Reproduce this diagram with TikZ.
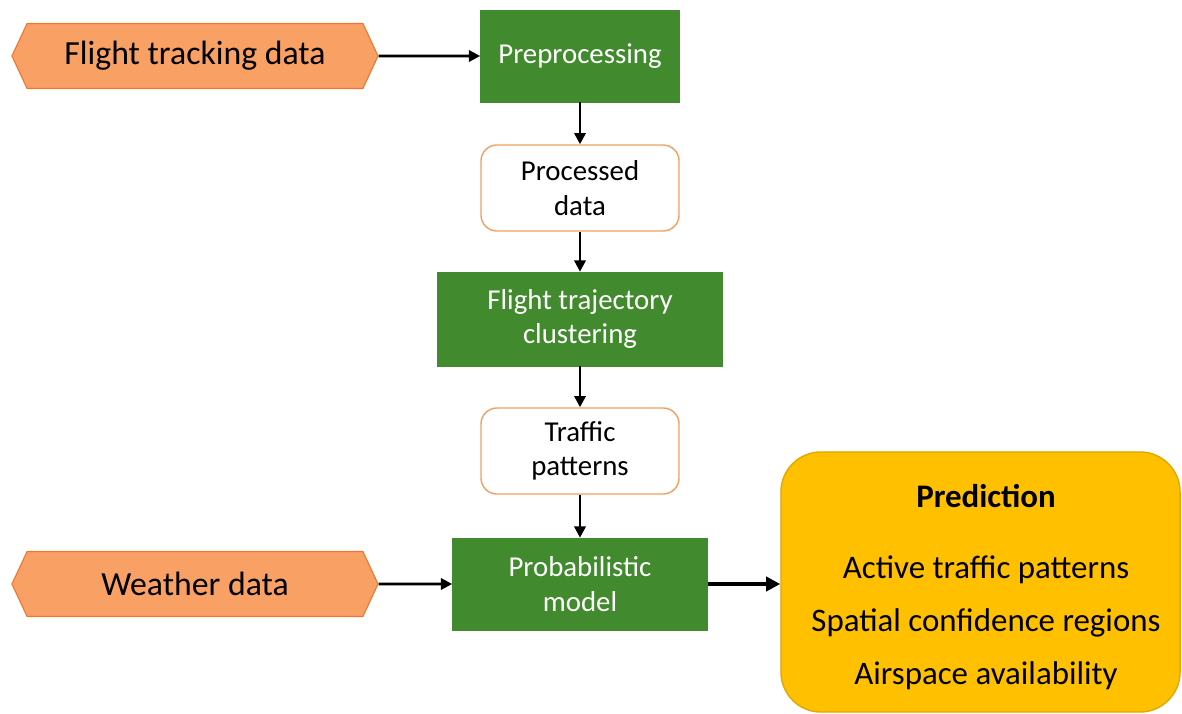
\documentclass[tikz,border=0pt]{standalone}
\usepackage{fontspec}
\setmainfont{Carlito}
\usetikzlibrary{arrows.meta,shapes.symbols}
\definecolor{srcfill}{HTML}{F9A064}
\definecolor{srcline}{HTML}{E67A35}
\definecolor{stepgreen}{HTML}{418A2E}
\definecolor{dataline}{HTML}{F0A060}
\definecolor{predfill}{HTML}{FFC000}
\definecolor{predline}{HTML}{E0A800}
\begin{document}
\begin{tikzpicture}[x=0.025cm,y=-0.025cm,
    >={Triangle[length=8pt,width=8pt]},
    source/.style={signal,signal to=east and west,signal pointer angle=130,
      draw=srcline,fill=srcfill,line width=0.8pt,inner sep=0pt,
      minimum width=9.15cm,minimum height=1.625cm,font=\fontsize{24}{28}\selectfont},
    process/.style={draw=stepgreen,fill=stepgreen,text=white,align=center,
      minimum height=2.3cm,font=\fontsize{20.5}{24.5}\selectfont},
    result/.style={draw=dataline,fill=white,rounded corners=0.4cm,line width=1pt,
      align=center,minimum width=4.95cm,minimum height=2.15cm,
      font=\fontsize{20.5}{24.5}\selectfont},
    flow/.style={->,line width=1.8pt}]
  \useasboundingbox (0,0) rectangle (1182,714);
  \node[source] (tracking) at (195,56) {Flight tracking data};
  \node[source] (weather) at (195,584) {Weather data};
  \node[process,minimum width=4.975cm] (prep) at (580,56) {Preprocessing};
  \node[result] (processed) at (580,188) {Processed\\data};
  \node[process,minimum width=7.125cm,minimum height=2.35cm] (cluster) at (580,319)
    {Flight trajectory\\clustering};
  \node[result] (patterns) at (580,451) {Traffic\\patterns};
  \node[process,minimum width=6.375cm] (model) at (580,584) {Probabilistic\\model};
  \node[draw=predline,fill=predfill,line width=1pt,rounded corners=1cm,align=center,
    minimum width=9.975cm,minimum height=6.5cm] (pred) at (980.5,582) {};
  \node[align=center,font=\fontsize{23.4}{37.5}\selectfont] (predtext) at (986,587)
    {\textbf{Prediction}\\[13pt]Active traffic patterns\\
    Spatial confidence regions\\Airspace availability};
  \draw[flow] (tracking) -- (prep);
  \draw[flow] (weather) -- (model);
  \draw[flow] (prep) -- (processed);
  \draw[flow] (processed) -- (cluster);
  \draw[flow] (cluster) -- (patterns);
  \draw[flow] (patterns) -- (model);
  \draw[->,line width=2.6pt,>={Triangle[length=10pt,width=10pt]}]
    (model.east) -- (model.east -| pred.west);
\end{tikzpicture}
\end{document}
